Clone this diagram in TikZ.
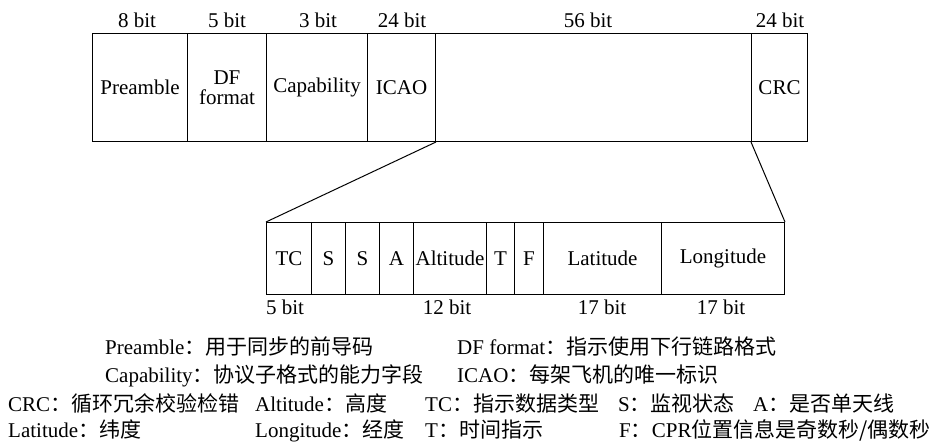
\documentclass[tikz,border=0pt]{standalone}
\usepackage{fontspec}
\setmainfont{Liberation Serif}
\newfontfamily\cjk{Noto Sans CJK SC}
\begin{document}
\begin{tikzpicture}[x=1pt,y=-1pt,
  font=\fontsize{21}{23}\selectfont,
  fld/.style={draw, line width=1pt, inner sep=0pt, anchor=north west, align=center},
  top/.style={fld, minimum height=108pt},
  bot/.style={fld, minimum height=72pt},
  lbl/.style={anchor=base, inner sep=0pt},
  leg/.style={anchor=base west, inner sep=0pt},
  conn/.style={line width=1pt}]
\useasboundingbox (0,0) rectangle (937,442);
% top frame
\node[top, minimum width=95pt]  (pre) at (92,33) {Preamble};
\node[top, minimum width=79pt]  (df)  at (187,33) {DF\\[-3pt]format};
\node[top, minimum width=101pt] (cap) at (266,33) {Capability};
\node[top, minimum width=68pt]  (icao) at (367,33) {ICAO};
\node[top, minimum width=316pt] (data) at (435,33) {};
\node[top, minimum width=56pt]  (crc) at (751,33) {CRC};
% top labels
\node[lbl] (l1) at (137,27) {8 bit};
\node[lbl] (l2) at (227,27) {5 bit};
\node[lbl] (l3) at (318,27) {3 bit};
\node[lbl] (l4) at (402,27) {24 bit};
\node[lbl] (l5) at (588,27) {56 bit};
\node[lbl] (l6) at (780,27) {24 bit};
% bottom frame
\node[bot, minimum width=45pt]  (tc) at (266,222) {TC};
\node[bot, minimum width=34pt]  (s1) at (311,222) {S};
\node[bot, minimum width=34pt]  (s2) at (345,222) {S};
\node[bot, minimum width=34pt]  (a)  at (379,222) {A};
\node[bot, minimum width=73pt]  (alt) at (413,222) {Altitude};
\node[bot, minimum width=28pt]  (t)  at (486,222) {T};
\node[bot, minimum width=29pt]  (f)  at (514,222) {F};
\node[bot, minimum width=118pt] (lat) at (543,222) {Latitude};
\node[bot, minimum width=123pt] (lon) at (661,222) {Longitude};
% bottom labels
\node[lbl] (b1) at (285,314) {5 bit};
\node[lbl] (b2) at (447,314) {12 bit};
\node[lbl] (b3) at (602,314) {17 bit};
\node[lbl] (b4) at (721,314) {17 bit};
% connectors
\draw[conn] (icao.south east) -- (tc.north west);
\draw[conn] (crc.south west) -- (lon.north east);
% legend
\node[leg] (g1) at (105,354) {Preamble{\cjk：用于同步的前导码}};
\node[leg] (g2) at (457,354) {DF format{\cjk：指示使用下行链路格式}};
\node[leg] (g3) at (105,382) {Capability{\cjk：协议子格式的能力字段}};
\node[leg] (g4) at (457,382) {ICAO{\cjk：每架飞机的唯一标识}};
\node[leg] (g5) at (8,411) {CRC{\cjk：循环冗余校验检错}};
\node[leg] (g6) at (255,411) {Altitude{\cjk：高度}};
\node[leg] (g7) at (425,411) {TC{\cjk：指示数据类型}};
\node[leg] (g8) at (618,411) {S{\cjk：监视状态}};
\node[leg] (g9) at (753,411) {A{\cjk：是否单天线}};
\node[leg] (g10) at (8,437) {Latitude{\cjk：纬度}};
\node[leg] (g11) at (255,437) {Longitude{\cjk：经度}};
\node[leg] (g12) at (425,437) {T{\cjk：时间指示}};
\node[leg] (g13) at (619,437) {F{\cjk：}CPR{\cjk 位置信息是奇数秒/偶数秒}};
\end{tikzpicture}
\end{document}
